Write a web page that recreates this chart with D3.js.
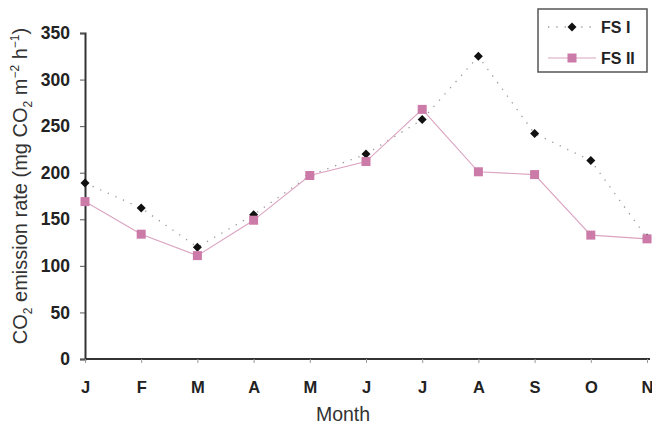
<!DOCTYPE html>
<html><head><meta charset="utf-8">
<script src="https://cdn.jsdelivr.net/npm/d3@7"></script>
<style>body{margin:0;background:#fff}svg{display:block}</style>
</head><body><svg id="c" width="652" height="425"></svg>
<script>
const months = ["J","F","M","A","M","J","J","A","S","O","N"];
const fs1 = [189,162,120,155,197,220,257,325,242,213,130];
const fs2 = [169,134,111,149,197,212,268,201,198,133,129];
const yTicks = [0,50,100,150,200,250,300,350];
const seriesNames = ["FS I","FS II"];

const svg = d3.select("#c");
const x = d3.scaleLinear().domain([0, months.length-1]).range([85, 647]);
const y = d3.scaleLinear().domain([0,350]).range([359, 33]);
const font = "Liberation Sans, Arial, sans-serif";

// y axis
const ya = svg.append("g").attr("transform","translate(85,0)")
  .call(d3.axisLeft(y).tickValues(yTicks).tickSize(5).tickPadding(10));
ya.select(".domain").attr("stroke","#333").attr("stroke-width",2);
ya.selectAll(".tick line").attr("stroke","#555");
ya.selectAll("text").attr("font-family",font).attr("font-weight","bold").attr("font-size",17.5).attr("fill","#222");

// x axis
const xa = svg.append("g").attr("transform","translate(0,359)")
  .call(d3.axisBottom(x).tickValues(d3.range(months.length)).tickFormat(i=>months[i]).tickSize(4).tickSizeOuter(0).tickPadding(30));
xa.select(".domain").attr("stroke","#333").attr("stroke-width",2).attr("d","M85,0H650");
xa.selectAll(".tick line").attr("stroke","#999");
xa.selectAll("text").attr("font-family",font).attr("font-weight","bold").attr("font-size",16.5).attr("fill","#222").attr("dy","0");

// labels
svg.append("text").attr("x",343).attr("y",421).attr("text-anchor","middle")
  .attr("font-family",font).attr("font-size",19.5).attr("fill","#333").text("Month");
const yl = svg.append("text").attr("transform","translate(27,186) rotate(-90)").attr("text-anchor","middle")
  .attr("font-family",font).attr("font-size",20).attr("fill","#333");
yl.append("tspan").text("CO");
yl.append("tspan").attr("font-size",12).attr("dy",5).text("2");
yl.append("tspan").attr("dy",-5).text(" emission rate (mg CO");
yl.append("tspan").attr("font-size",12).attr("dy",5).text("2");
yl.append("tspan").attr("dy",-5).text(" m");
yl.append("tspan").attr("font-size",12).attr("dy",-8).text("−2");
yl.append("tspan").attr("dy",8).text(" h");
yl.append("tspan").attr("font-size",12).attr("dy",-8).text("−1");
yl.append("tspan").attr("dy",8).text(")");

const pink = "#cc7aa8";
const line = d3.line().x((d,i)=>x(i)).y(d=>y(d));
svg.append("path").attr("d",line(fs1)).attr("fill","none").attr("stroke","#999")
  .attr("stroke-width",1.3).attr("stroke-dasharray","1.3,7");
svg.append("path").attr("d",line(fs2)).attr("fill","none").attr("stroke","#dba3c0").attr("stroke-width",1.1);

const rh = "M0,-4.5L4.5,0L0,4.5L-4.5,0Z";
svg.append("g").selectAll("path").data(fs1).join("path")
  .attr("d",rh).attr("transform",(d,i)=>`translate(${x(i)},${y(d)})`).attr("fill","#111");
svg.append("g").selectAll("rect").data(fs2).join("rect")
  .attr("x",(d,i)=>x(i)-4.5).attr("y",d=>y(d)-4.5).attr("width",9).attr("height",9).attr("fill",pink);

// legend
const lg = svg.append("g");
lg.append("rect").attr("x",538).attr("y",9).attr("width",109).attr("height",63)
  .attr("fill","#fff").attr("stroke","#555").attr("stroke-width",1.5);
lg.append("line").attr("x1",548).attr("x2",596).attr("y1",27).attr("y2",27)
  .attr("stroke","#999").attr("stroke-width",1.3).attr("stroke-dasharray","1.3,7");
lg.append("path").attr("d",rh).attr("transform","translate(572,27)").attr("fill","#111");
lg.append("line").attr("x1",548).attr("x2",596).attr("y1",58).attr("y2",58)
  .attr("stroke","#dba3c0").attr("stroke-width",1.1);
lg.append("rect").attr("x",567.5).attr("y",53.5).attr("width",9).attr("height",9).attr("fill",pink);
lg.selectAll("text.l").data(seriesNames).join("text").attr("class","l")
  .attr("x",601).attr("y",(d,i)=>[33,64][i]).attr("font-family",font).attr("font-weight","bold")
  .attr("font-size",16).attr("fill","#222").text(d=>d);
</script></body></html>
